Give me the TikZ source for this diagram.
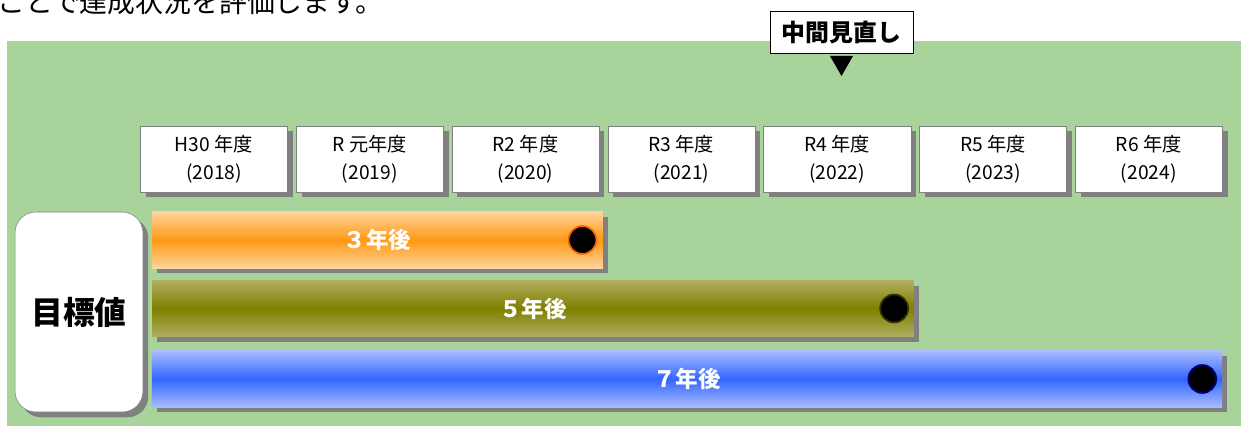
\documentclass[tikz,border=0pt]{standalone}
\usepackage{fontspec}
\setmainfont{Noto Sans CJK JP}
\usetikzlibrary{shadows}
\definecolor{panelGreen}{RGB}{168,211,154}
\definecolor{shadowGray}{RGB}{128,128,128}
\definecolor{orangeEdge}{RGB}{255,212,155}
\definecolor{orangeMid}{RGB}{255,153,20}
\definecolor{orangeRing}{RGB}{255,102,0}
\definecolor{oliveEdge}{RGB}{176,174,96}
\definecolor{oliveMid}{RGB}{128,128,0}
\definecolor{oliveRing}{RGB}{51,51,0}
\definecolor{blueEdge}{RGB}{168,188,255}
\definecolor{blueMid}{RGB}{51,102,255}
\definecolor{blueRing}{RGB}{0,0,128}

\begin{document}
\begin{tikzpicture}
[x=0.0265cm,y=-0.0265cm,
  shadowDecorate/.style={drop shadow={shadow xshift=0.14cm,shadow yshift=-0.14cm,fill=shadowGray,opacity=1}},
  yearDecorate/.style={shape=rectangle,draw=gray,fill=white,inner sep=0pt,
    minimum width=3.9cm,minimum height=1.75cm,align=center,
    font=\fontsize{14.5}{21}\selectfont,shadowDecorate},
  barDecorate/.style={shape=rectangle,inner sep=0pt,minimum height=1.49cm,
    text=white,font=\fontsize{17}{20}\bfseries\selectfont,shadowDecorate},
  dotDecorate/.style={shape=circle,fill=black,line width=1.3pt,inner sep=0pt,minimum size=0.74cm}]
\useasboundingbox (0,0) rectangle (1241,426);
%% text line above, cut by the page
\node[anchor=west,inner sep=0pt,font=\fontsize{21}{22}\selectfont] (lead) at (-3,2)
  {ことで達成状況を評価します。};
%% panel
\fill[panelGreen] (7,41) rectangle (1241,426);
%% years
\foreach \i/\wareki/\seireki in {
  0/H30 年度/2018,
  1/R 元年度/2019,
  2/R2 年度/2020,
  3/R3 年度/2021,
  4/R4 年度/2022,
  5/R5 年度/2023,
  6/R6 年度/2024}
{
  \node (year\i) at (214+155.8*\i,159) [yearDecorate] {\wareki\\(\seireki)};
}
%% midterm review
\node (mid) at (841.5,32) [shape=rectangle,draw=black,fill=white,line width=0.6pt,
  minimum width=3.79cm,minimum height=1.11cm,inner sep=0pt,
  font=\fontsize{18}{20}\bfseries\selectfont] {中間見直し};
\fill[black] ([yshift=-2]mid.south) ++(-11.5,0) -- ++(23,0) -- ++(-11.5,20) -- cycle;
%% target values
\node (target) at (79,312) [shape=rectangle,rounded corners=0.55cm,draw=gray,fill=white,
  minimum width=3.39cm,minimum height=5.3cm,inner sep=0pt,shadowDecorate,
  font=\fontsize{24}{26}\bfseries\selectfont] {目標値};
\node (bar3) at (377.5,240) [barDecorate,minimum width=11.95cm,
  top color=orangeEdge,bottom color=orangeEdge,middle color=orangeMid] {３年後};
\node (bar5) at (533,308.5) [barDecorate,minimum width=20.19cm,
  top color=oliveEdge,bottom color=oliveEdge,middle color=oliveMid] {５年後};
\node (bar7) at (687,379) [barDecorate,minimum width=28.36cm,
  top color=blueEdge,bottom color=blueEdge,middle color=blueMid] {７年後};
\node (dot3) at ([xshift=-0.55cm]bar3.east) [dotDecorate,draw=orangeRing] {};
\node (dot5) at ([xshift=-0.53cm]bar5.east) [dotDecorate,draw=oliveRing] {};
\node (dot7) at ([xshift=-0.53cm]bar7.east) [dotDecorate,draw=blueRing] {};
\end{tikzpicture}
\end{document}
